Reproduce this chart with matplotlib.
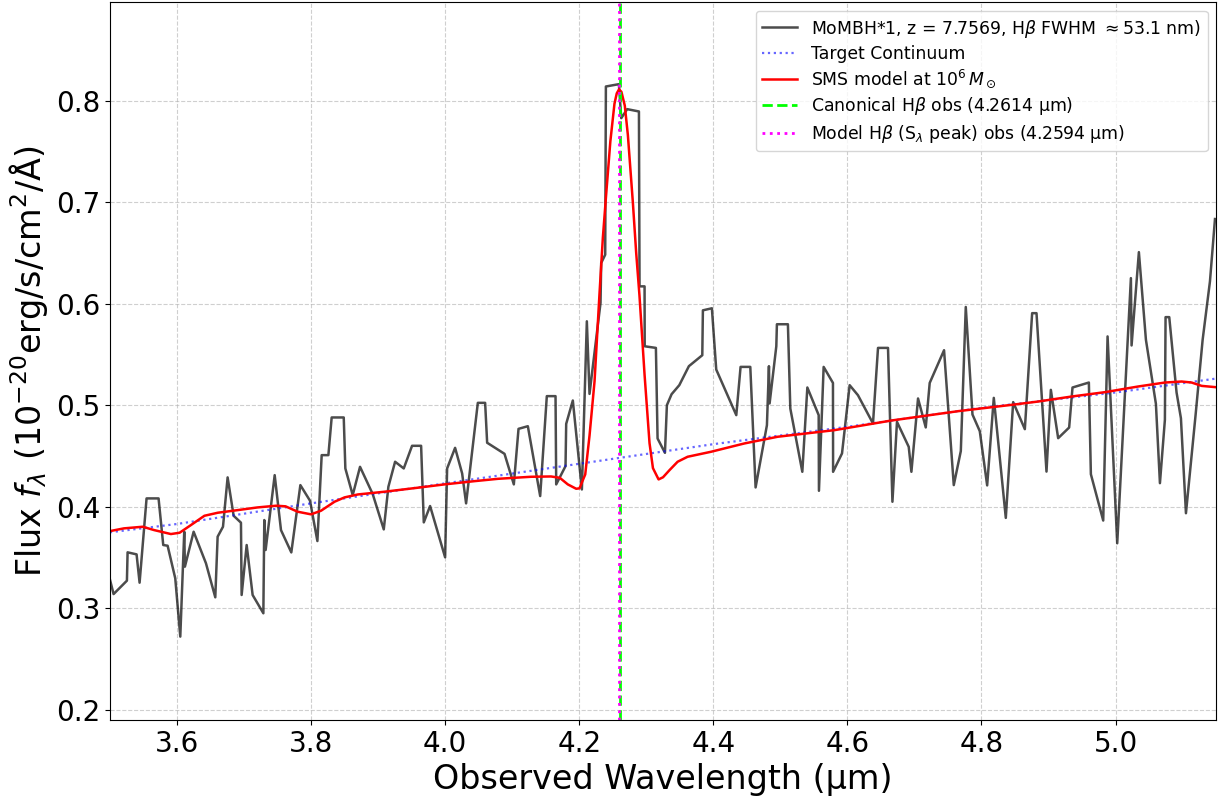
import numpy as np
import matplotlib
matplotlib.use("Agg")
import matplotlib.pyplot as plt

wave_obs = [3.5000, 3.5055, 3.5254, 3.5264, 3.5398, 3.5443, 3.5547, 3.5726, 3.5796, 3.5861,
            3.5975, 3.6050, 3.6109, 3.6119, 3.6249, 3.6433, 3.6572, 3.6607, 3.6687, 3.6756,
            3.6846, 3.6955, 3.6965, 3.7040, 3.7129, 3.7289, 3.7303, 3.7323, 3.7458, 3.7552,
            3.7706, 3.7841, 3.7985, 3.8095, 3.8159, 3.8259, 3.8308, 3.8488, 3.8512, 3.8622,
            3.8731, 3.8920, 3.9085, 3.9154, 3.9254, 3.9383, 3.9507, 3.9642, 3.9682, 3.9776,
            4.0000, 4.0030, 4.0149, 4.0254, 4.0313, 4.0488, 4.0597, 4.0627, 4.0886, 4.1025,
            4.1095, 4.1234, 4.1418, 4.1517, 4.1647, 4.1657, 4.1796, 4.1806, 4.1905, 4.2040,
            4.2114, 4.2154, 4.2318, 4.2328, 4.2388, 4.2398, 4.2592, 4.2627, 4.2716, 4.2891,
            4.2900, 4.2975, 4.2977, 4.3144, 4.3169, 4.3279, 4.3308, 4.3378, 4.3493, 4.3636,
            4.3836, 4.3845, 4.3979, 4.4044, 4.4343, 4.4407, 4.4552, 4.4631, 4.4800, 4.4830,
            4.4840, 4.4940, 4.4949, 4.5113, 4.5149, 4.5328, 4.5403, 4.5572, 4.5576, 4.5646,
            4.5785, 4.5787, 4.5920, 4.6034, 4.6158, 4.6382, 4.6457, 4.6606, 4.6672, 4.6740,
            4.6915, 4.6955, 4.7054, 4.7169, 4.7228, 4.7442, 4.7587, 4.7692, 4.7766, 4.7866,
            4.7975, 4.8085, 4.8184, 4.8363, 4.8473, 4.8647, 4.8756, 4.8821, 4.8970, 4.9035,
            4.9144, 4.9308, 4.9358, 4.9602, 4.9632, 4.9816, 4.9881, 5.0025, 5.0229, 5.0239,
            5.0348, 5.0453, 5.0602, 5.0662, 5.0736, 5.0746, 5.0801, 5.0910, 5.0975, 5.1050,
            5.1194, 5.1299, 5.1408, 5.1483]
flux_obs = [0.3285, 0.3140, 0.3272, 0.3551, 0.3531, 0.3252, 0.4082, 0.4082, 0.3623, 0.3616,
            0.3295, 0.2721, 0.3754, 0.3410, 0.3754, 0.3443, 0.3108, 0.3705, 0.3803, 0.4289,
            0.3911, 0.3843, 0.3131, 0.3623, 0.3131, 0.2951, 0.3869, 0.3574, 0.4311, 0.3770,
            0.3550, 0.4213, 0.4059, 0.3662, 0.4508, 0.4508, 0.4879, 0.4879, 0.4377, 0.4115,
            0.4393, 0.4125, 0.3777, 0.4197, 0.4443, 0.4377, 0.4600, 0.4600, 0.3846, 0.4007,
            0.3502, 0.4377, 0.4580, 0.4328, 0.4033, 0.5023, 0.5023, 0.4630, 0.4521, 0.4220,
            0.4767, 0.4793, 0.4105, 0.5089, 0.5089, 0.4220, 0.4400, 0.4816, 0.5046, 0.4170,
            0.5826, 0.5111, 0.6007, 0.6400, 0.6482, 0.8138, 0.8161, 0.7826, 0.7915, 0.7892,
            0.6170, 0.6170, 0.5580, 0.5564, 0.4672, 0.4531, 0.5000, 0.5108, 0.5197, 0.5384,
            0.5492, 0.5934, 0.5954, 0.5351, 0.4902, 0.5377, 0.5377, 0.4190, 0.4803, 0.5384,
            0.5017, 0.5580, 0.5797, 0.5797, 0.4967, 0.4344, 0.5174, 0.4902, 0.4157, 0.5377,
            0.5219, 0.4344, 0.4525, 0.5197, 0.5098, 0.4820, 0.5564, 0.5564, 0.4049, 0.4836,
            0.4590, 0.4344, 0.5066, 0.4781, 0.5219, 0.5541, 0.4213, 0.4548, 0.5967, 0.4908,
            0.4744, 0.4210, 0.5072, 0.3890, 0.5030, 0.4764, 0.5906, 0.5906, 0.4346, 0.5151,
            0.4675, 0.4780, 0.5174, 0.5223, 0.4320, 0.3864, 0.5677, 0.3640, 0.6251, 0.5588,
            0.6507, 0.5644, 0.5013, 0.4232, 0.4856, 0.5867, 0.5867, 0.5125, 0.4872, 0.3936,
            0.4905, 0.5644, 0.6218, 0.6833]

# continuum cible
wave_cont = [3.50, 3.60, 3.80, 4.00, 4.20, 4.40, 4.60, 4.80, 5.00, 5.15]
flux_cont = [0.3748, 0.3830, 0.4033, 0.4230, 0.4423, 0.4616, 0.4787, 0.4974, 0.5125, 0.5262]

# modèle SMS à 10^6 Msun
wave_sms = [3.500, 3.521, 3.549, 3.566, 3.591, 3.604, 3.621, 3.641, 3.661, 3.691,
            3.720, 3.748, 3.762, 3.780, 3.800, 3.815, 3.835, 3.850, 3.870, 3.910,
            3.959, 3.999, 4.044, 4.079, 4.128, 4.158, 4.171, 4.183, 4.1955, 4.2004,
            4.2090, 4.2154, 4.2229, 4.2303, 4.2353, 4.2403, 4.2465, 4.2526, 4.2560, 4.2594,
            4.2630, 4.2680, 4.2726, 4.2800, 4.2850, 4.2899, 4.2975, 4.3049, 4.3100, 4.3184,
            4.3250, 4.3348, 4.3468, 4.3617, 4.3965, 4.4463, 4.4960, 4.5806, 4.6657, 4.7652,
            4.8497, 4.8846, 4.9343, 4.9841, 5.0338, 5.0736, 5.0985, 5.1134, 5.1284, 5.1500]
flux_sms = [0.3760, 0.3787, 0.3803, 0.3770, 0.3731, 0.3744, 0.3820, 0.3911, 0.3941, 0.3967,
            0.3993, 0.4010, 0.4004, 0.3951, 0.3925, 0.3961, 0.4049, 0.4092, 0.4121, 0.4148,
            0.4187, 0.4220, 0.4252, 0.4275, 0.4295, 0.4298, 0.4285, 0.4220, 0.4177, 0.4181,
            0.4318, 0.4700, 0.5236, 0.6100, 0.6650, 0.7082, 0.7600, 0.7968, 0.8070, 0.8110,
            0.8085, 0.7950, 0.7660, 0.7000, 0.6500, 0.6080, 0.5300, 0.4626, 0.4380, 0.4269,
            0.4290, 0.4361, 0.4443, 0.4492, 0.4541, 0.4623, 0.4689, 0.4754, 0.4849, 0.4941,
            0.5007, 0.5036, 0.5085, 0.5128, 0.5184, 0.5223, 0.5233, 0.5223, 0.5190, 0.5177]

hb_canon = 4.2614
hb_model = 4.2594

fig, ax = plt.subplots(figsize=(12.21, 8), dpi=100)
fig.subplots_adjust(left=0.09, right=0.996, top=0.9975, bottom=0.1)

ax.plot(wave_obs, flux_obs, color='black', alpha=0.7, lw=1.8,
        label=r'MoMBH*1, z = 7.7569, H$\beta$ FWHM $\approx$53.1 nm)')
ax.plot(wave_cont, flux_cont, color='blue', alpha=0.6, lw=1.6, linestyle=':', label='Target Continuum')
ax.plot(wave_sms, flux_sms, color='red', lw=1.8, label=r'SMS model at $10^6\,M_\odot$')
ax.axvline(hb_canon, color='lime', linestyle='--', lw=2, label=r'Canonical H$\beta$ obs (4.2614 µm)')
ax.axvline(hb_model, color='magenta', linestyle=':', lw=2,
           label=r'Model H$\beta$ (S$_\lambda$ peak) obs (4.2594 µm)')

ax.set_xlim(3.5, 5.15)
ax.set_ylim(0.19, 0.897)
ax.set_xlabel('Observed Wavelength (µm)', fontsize=24)
ax.set_ylabel(r'Flux $f_\lambda$ ($10^{-20}$erg/s/cm$^2$/Å)', fontsize=24)
ax.tick_params(labelsize=20)
ax.grid(True, linestyle='--', alpha=0.6)
ax.legend(loc='upper right', fontsize=12.4, labelspacing=0.3)

plt.savefig('out.png', dpi=100)
